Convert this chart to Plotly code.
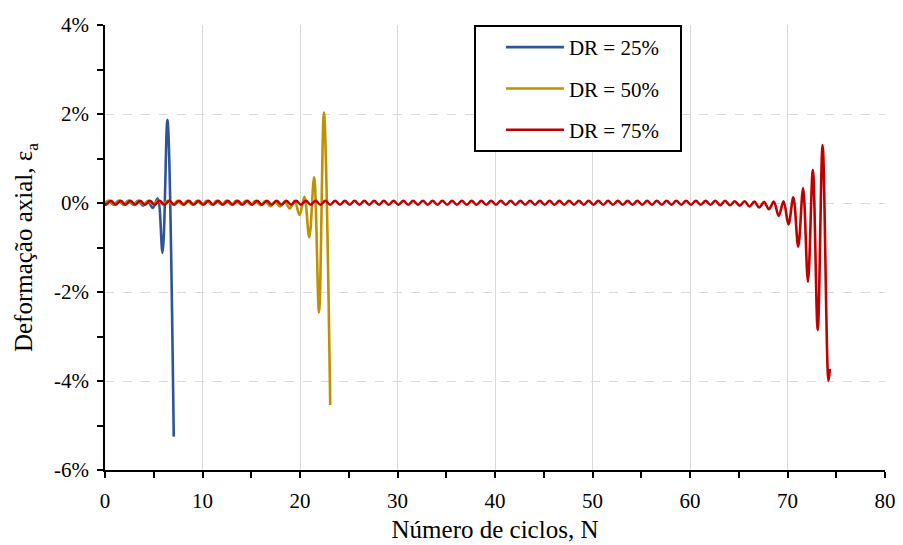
import plotly.graph_objects as go

# ---------------- data (strain in %) ----------------
series_names = ["DR = 25%", "DR = 50%", "DR = 75%"]
series_colors = ["#2F5597", "#BF9000", "#C00000"]

# DR = 25%: peaks at N = k + 0.4, troughs at N = k + 0.9
dr25_peaks = [0.05, 0.05, 0.05, 0.05, 0.04, 0.10, 1.87]
dr25_troughs = [-0.04, -0.04, -0.04, -0.06, -0.11, -1.12]
dr25_end_N = [7.05]
dr25_end_eps = [-5.25]

# DR = 50%: peaks at N = k + 0.45, troughs at N = k + 0.95
dr50_peaks = [0.05, 0.05, 0.05, 0.05, 0.05, 0.05, 0.05, 0.05, 0.05, 0.05,
              0.05, 0.05, 0.05, 0.05, 0.05, 0.05, 0.04, 0.03, 0.03, 0.05,
              0.14, 0.58, 2.03]
dr50_troughs = [-0.04, -0.04, -0.04, -0.04, -0.04, -0.04, -0.04, -0.04, -0.04, -0.04,
                -0.04, -0.04, -0.04, -0.04, -0.04, -0.05, -0.07, -0.08, -0.12, -0.27,
                -0.77, -2.46]
dr50_end_N = [23.1]
dr50_end_eps = [-4.54]

# DR = 75%: troughs at N = k + 0.1, peaks at N = k + 0.6
dr75_peaks = [0.05, 0.05, 0.05, 0.05, 0.05, 0.05, 0.05, 0.05, 0.05, 0.05,
              0.05, 0.05, 0.05, 0.05, 0.05, 0.05, 0.05, 0.05, 0.05, 0.05,
              0.05, 0.05, 0.05, 0.05, 0.05, 0.05, 0.05, 0.05, 0.05, 0.05,
              0.05, 0.05, 0.05, 0.05, 0.05, 0.05, 0.05, 0.05, 0.05, 0.05,
              0.05, 0.05, 0.05, 0.05, 0.05, 0.05, 0.05, 0.05, 0.05, 0.05,
              0.05, 0.05, 0.05, 0.05, 0.05, 0.05, 0.05, 0.05, 0.05, 0.05,
              0.05, 0.05, 0.05, 0.05, 0.04, 0.04, 0.03, 0.02, 0.03, 0.04,
              0.13, 0.33, 0.74, 1.30]
dr75_troughs = [-0.04, -0.04, -0.04, -0.04, -0.04, -0.04, -0.04, -0.04, -0.04, -0.04,
                -0.04, -0.04, -0.04, -0.04, -0.04, -0.04, -0.04, -0.04, -0.04, -0.04,
                -0.04, -0.04, -0.04, -0.04, -0.04, -0.04, -0.04, -0.04, -0.04, -0.04,
                -0.04, -0.04, -0.04, -0.04, -0.04, -0.04, -0.04, -0.04, -0.04, -0.04,
                -0.04, -0.04, -0.04, -0.04, -0.04, -0.04, -0.04, -0.04, -0.04, -0.04,
                -0.04, -0.04, -0.04, -0.04, -0.04, -0.04, -0.04, -0.04, -0.04, -0.04,
                -0.04, -0.04, -0.04, -0.05, -0.05, -0.06, -0.08, -0.10, -0.14, -0.29,
                -0.48, -0.98, -1.77, -2.85]
dr75_end_N = [74.2, 74.35]
dr75_end_eps = [-4.00, -3.73]

x_tick_vals = [0, 10, 20, 30, 40, 50, 60, 70, 80]
y_tick_vals = [-6, -4, -2, 0, 2, 4]
y_tick_labels = ["-6%", "-4%", "-2%", "0%", "2%", "4%"]


def build(peaks, peak_phase, troughs, trough_phase, end_N, end_eps):
    pts = [(0.0, 0.0)]
    pts += [(k + peak_phase, v) for k, v in enumerate(peaks)]
    pts += [(k + trough_phase, v) for k, v in enumerate(troughs)]
    pts += list(zip(end_N, end_eps))
    pts.sort(key=lambda p: p[0])
    return [p[0] for p in pts], [p[1] for p in pts]


curves = [
    build(dr25_peaks, 0.4, dr25_troughs, 0.9, dr25_end_N, dr25_end_eps),
    build(dr50_peaks, 0.45, dr50_troughs, 0.95, dr50_end_N, dr50_end_eps),
    build(dr75_peaks, 0.6, dr75_troughs, 0.1, dr75_end_N, dr75_end_eps),
]

FONT = "Liberation Serif"

fig = go.Figure()
for i, (name, color, (xs, ys)) in enumerate(zip(series_names, series_colors, curves)):
    fig.add_trace(go.Scatter(
        x=xs, y=ys, mode="lines", name=name + "\u00a0\u00a0\u00a0", legendgroup=f"g{i}",
        line=dict(color=color, width=2.6, shape="spline", smoothing=1.0),
    ))

# the page body has an 8 px margin, so the figure is 8 px smaller and shifted
fig.update_layout(
    width=895, height=537,
    margin=dict(l=97, r=18, t=17, b=75, autoexpand=False),
    paper_bgcolor="white", plot_bgcolor="white",
    font=dict(family=FONT, size=21, color="black"),
    showlegend=True,
    legend=dict(
        x=0.473, y=1.0, xanchor="left", yanchor="top",
        bgcolor="white", bordercolor="black", borderwidth=2,
        font=dict(family=FONT, size=21, color="black"),
        tracegroupgap=11, itemwidth=58, indentation=25,
    ),
)

fig.update_xaxes(
    range=[0, 80], tickvals=x_tick_vals, automargin=False,
    showline=True, linecolor="black", linewidth=1.5,
    ticks="outside", ticklen=6, tickwidth=1.5, tickcolor="black",
    showgrid=True, gridcolor="#D9D9D9", gridwidth=1.2,
    zeroline=False, ticklabelstandoff=5,
    minor=dict(dtick=5, ticks="outside", ticklen=6, tickwidth=1.5, tickcolor="black", showgrid=False),
    tickfont=dict(family=FONT, size=21),
    title=dict(text="Número de ciclos, N", font=dict(family=FONT, size=25), standoff=9),
)
fig.update_yaxes(
    range=[-6, 4], tickvals=y_tick_vals, ticktext=y_tick_labels, automargin=False,
    showline=True, linecolor="black", linewidth=1.5,
    ticks="outside", ticklen=6, tickwidth=1.5, tickcolor="black",
    showgrid=True, gridcolor="#D9D9D9", gridwidth=1.2, griddash="dash",
    zeroline=False, ticklabelstandoff=4,
    minor=dict(dtick=1, tick0=0, ticks="outside", ticklen=6, tickwidth=1.5, tickcolor="black", showgrid=False),
    tickfont=dict(family=FONT, size=21),
    title=dict(text="Deformação axial, ε<sub>a</sub>", font=dict(family=FONT, size=25), standoff=14),
)

fig.write_html("out.html")
